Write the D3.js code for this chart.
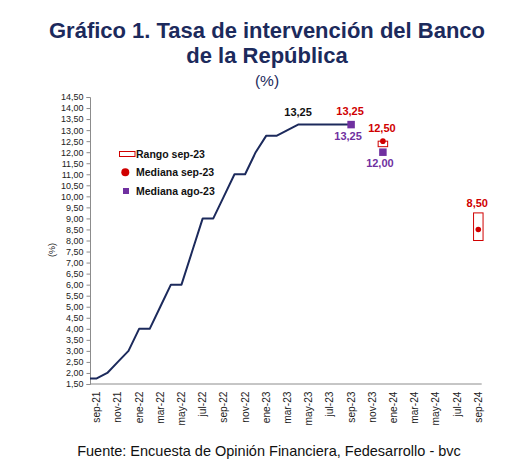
<!DOCTYPE html>
<html>
<head>
<meta charset="utf-8">
<script src="https://cdn.jsdelivr.net/npm/d3@7"></script>
<style>
  body { margin: 0; background: #fff; }
  svg { font-family: "Liberation Sans", Arial, sans-serif; display: block; }
</style>
</head>
<body>
<div id="chart"></div>
<script>
// Months on the category axis (ago-21 only feeds the start of the line)
const months = [
  "ago-21", "sep-21", "oct-21", "nov-21", "dic-21",
  "ene-22", "feb-22", "mar-22", "abr-22", "may-22", "jun-22", "jul-22", "ago-22", "sep-22", "oct-22", "nov-22", "dic-22",
  "ene-23", "feb-23", "mar-23", "abr-23", "may-23", "jun-23", "jul-23", "ago-23", "sep-23", "oct-23", "nov-23", "dic-23",
  "ene-24", "feb-24", "mar-24", "abr-24", "may-24", "jun-24", "jul-24", "ago-24", "sep-24"
];
const tickLabels = [
  "sep-21", "nov-21", "ene-22", "mar-22", "may-22", "jul-22", "sep-22", "nov-22", "ene-23",
  "mar-23", "may-23", "jul-23", "sep-23", "nov-23", "ene-24", "mar-24", "may-24", "jul-24", "sep-24"
];

// Observed policy rate
const rateMonths = [
  "ago-21", "sep-21", "oct-21", "nov-21", "dic-21", "ene-22", "feb-22", "mar-22", "abr-22", "may-22",
  "jun-22", "jul-22", "ago-22", "sep-22", "oct-22", "nov-22", "dic-22", "ene-23", "feb-23", "mar-23",
  "abr-23", "may-23", "jun-23", "jul-23", "ago-23", "sep-23"
];
const rateValues = [
  1.75, 1.75, 2.00, 2.50, 3.00, 4.00, 4.00, 5.00, 6.00, 6.00,
  7.50, 9.00, 9.00, 10.00, 11.00, 11.00, 12.00, 12.75, 12.75, 13.00,
  13.25, 13.25, 13.25, 13.25, 13.25, 13.25
];

// Survey results
const rangeMonths = ["dic-23", "sep-24"];
const rangeLow = [12.25, 8.00];
const rangeHigh = [12.50, 9.25];
const medianSepMonths = ["sep-23", "dic-23", "sep-24"];
const medianSepValues = [13.25, 12.50, 8.50];
const medianAgoMonths = ["sep-23", "dic-23"];
const medianAgoValues = [13.25, 12.00];

const yTicks = d3.range(1.5, 14.51, 0.5);

const navy = "#1c2a5c", red = "#d00000", purple = "#7030a0";
const fmt = v => d3.format(".2f")(v).replace(".", ",");

const W = 526, H = 472;
const plot = { left: 90, right: 481.7, top: 97, bottom: 384 };

const svg = d3.select("#chart").append("svg")
  .attr("width", W).attr("height", H);

svg.append("rect").attr("width", W).attr("height", H).attr("fill", "#fff");

// Title
const title = svg.append("g").attr("fill", navy).attr("text-anchor", "middle");
title.append("text").attr("x", 267).attr("y", 37.7)
  .attr("font-size", 22).attr("font-weight", "bold")
  .text("Gráfico 1. Tasa de intervención del Banco");
title.append("text").attr("x", 267).attr("y", 62.7)
  .attr("font-size", 22).attr("font-weight", "bold")
  .text("de la República");
title.append("text").attr("x", 267).attr("y", 86)
  .attr("font-size", 15.5).text("(%)");

// Scales
const x = d3.scalePoint().domain(months).range([86.1, 478.3]);
const y = d3.scaleLinear().domain([1.5, 14.5]).range([plot.bottom, plot.top]);

// Y axis
const yAxis = svg.append("g")
  .attr("transform", `translate(${plot.left},0)`)
  .call(d3.axisLeft(y).tickValues(yTicks).tickFormat(fmt).tickSize(3.5).tickPadding(3));
yAxis.select(".domain").attr("stroke", "#8c8c8c");
yAxis.selectAll(".tick line").attr("stroke", "#8c8c8c");
yAxis.selectAll(".tick text").attr("font-size", 9).attr("fill", "#222")
  .attr("font-family", "Liberation Sans, Arial, sans-serif");

svg.append("text")
  .attr("transform", "translate(52.3,250) rotate(-90)")
  .attr("text-anchor", "middle").attr("dy", "0.35em")
  .attr("font-size", 9).attr("fill", "#222").text("(%)");

// X axis
svg.append("line")
  .attr("x1", plot.left).attr("x2", plot.right)
  .attr("y1", plot.bottom).attr("y2", plot.bottom)
  .attr("stroke", "#8c8c8c");

svg.append("g").selectAll("text")
  .data(tickLabels)
  .join("text")
  .attr("transform", d => `translate(${x(d)},${plot.bottom + 7.5}) rotate(-90)`)
  .attr("text-anchor", "end").attr("dy", "0.35em")
  .attr("font-size", 10.2).attr("fill", "#222")
  .text(d => d);

// Clip for the rate line
svg.append("clipPath").attr("id", "plotclip")
  .append("rect")
  .attr("x", plot.left).attr("y", plot.top - 20)
  .attr("width", plot.right - plot.left).attr("height", plot.bottom - plot.top + 20);

const rateData = rateMonths.map((m, i) => ({ m, v: rateValues[i] }));
const line = d3.line().x(d => x(d.m)).y(d => y(d.v));

svg.append("path")
  .datum(rateData)
  .attr("clip-path", "url(#plotclip)")
  .attr("fill", "none")
  .attr("stroke", navy)
  .attr("stroke-width", 2)
  .attr("stroke-linejoin", "round")
  .attr("d", line);

// Label on the first peak of the line
const maxRate = d3.max(rateValues);
const peak = rateData.find(d => d.v === maxRate);
svg.append("text")
  .attr("x", x(peak.m)).attr("y", y(peak.v) - 8.6)
  .attr("text-anchor", "middle").attr("font-size", 11).attr("font-weight", "bold")
  .attr("fill", "#111").text(fmt(peak.v));

// Range boxes
const boxW = 9.5;
svg.append("g").selectAll("rect")
  .data(rangeMonths.map((m, i) => ({ m, lo: rangeLow[i], hi: rangeHigh[i] })))
  .join("rect")
  .attr("x", d => x(d.m) - boxW / 2)
  .attr("y", d => y(d.hi))
  .attr("width", boxW)
  .attr("height", d => y(d.lo) - y(d.hi))
  .attr("fill", "#fff").attr("stroke", red).attr("stroke-width", 1);

// Median sep-23 dots
const sepData = medianSepMonths.map((m, i) => ({ m, v: medianSepValues[i] }));
svg.append("g").selectAll("circle")
  .data(sepData)
  .join("circle")
  .attr("cx", d => x(d.m)).attr("cy", d => y(d.v)).attr("r", 2.8)
  .attr("fill", red);

// Median ago-23 squares
const sq = 7.5;
const agoData = medianAgoMonths.map((m, i) => ({ m, v: medianAgoValues[i] }));
svg.append("g").selectAll("rect")
  .data(agoData)
  .join("rect")
  .attr("x", d => x(d.m) - sq / 2).attr("y", d => y(d.v) - sq / 2)
  .attr("width", sq).attr("height", sq)
  .attr("fill", purple);

// Red labels above the top mark of each month
function topOf(m) {
  const ys = [];
  rangeMonths.forEach((r, i) => { if (r === m) ys.push(y(rangeHigh[i])); });
  sepData.forEach(d => { if (d.m === m) ys.push(y(d.v) - 2.8); });
  agoData.forEach(d => { if (d.m === m) ys.push(y(d.v) - sq / 2); });
  return d3.min(ys);
}
svg.append("g").selectAll("text")
  .data(sepData)
  .join("text")
  .attr("x", d => x(d.m) - 1).attr("y", d => topOf(d.m) - 6)
  .attr("text-anchor", "middle").attr("font-size", 11).attr("font-weight", "bold")
  .attr("fill", red).text(d => fmt(d.v));

svg.append("g").selectAll("text")
  .data(agoData)
  .join("text")
  .attr("x", d => x(d.m) - 3).attr("y", d => y(d.v) + sq / 2 + 11.5)
  .attr("text-anchor", "middle").attr("font-size", 11).attr("font-weight", "bold")
  .attr("fill", purple).text(d => fmt(d.v));

// Legend
const legend = svg.append("g").attr("font-size", 10.5).attr("font-weight", "bold").attr("fill", "#111");
legend.append("rect").attr("x", 119.5).attr("y", 151.5).attr("width", 15.5).attr("height", 5)
  .attr("fill", "#fff").attr("stroke", red);
legend.append("text").attr("x", 136).attr("y", 157.7).text("Rango sep-23");
legend.append("circle").attr("cx", 125.3).attr("cy", 172.3).attr("r", 4).attr("fill", red);
legend.append("text").attr("x", 136).attr("y", 176).text("Mediana sep-23");
legend.append("rect").attr("x", 123).attr("y", 188).attr("width", 6).attr("height", 6).attr("fill", purple);
legend.append("text").attr("x", 136).attr("y", 195).text("Mediana ago-23");

// Source
svg.append("text")
  .attr("x", 269).attr("y", 456)
  .attr("text-anchor", "middle").attr("font-size", 14.5).attr("fill", "#111")
  .text("Fuente: Encuesta de Opinión Financiera, Fedesarrollo - bvc");
</script>
</body>
</html>
